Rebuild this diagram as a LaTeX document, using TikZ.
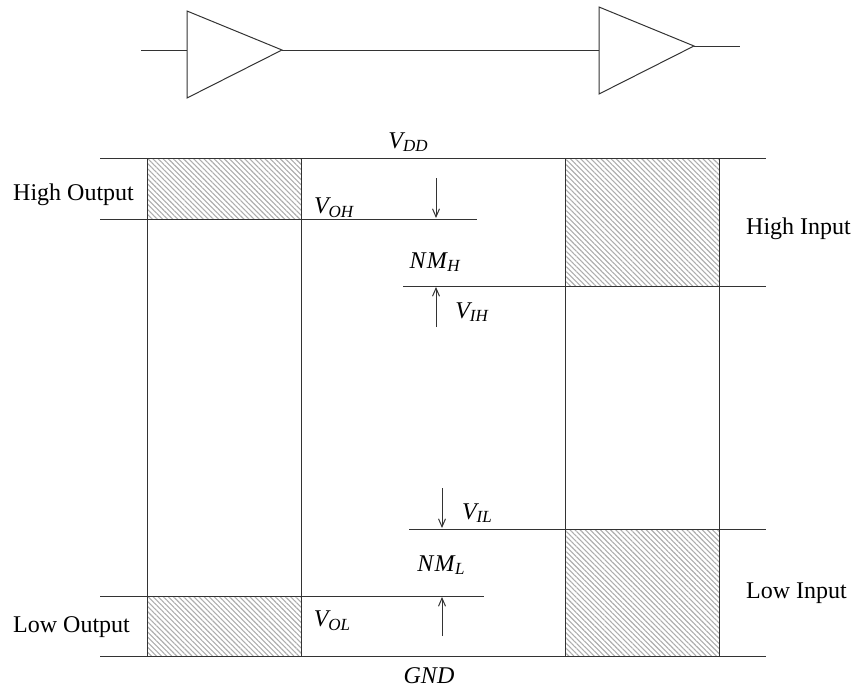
\documentclass[tikz,border=0pt]{standalone}
\usepackage{fontspec}
\setmainfont{Liberation Serif}
\usepackage{tikz}
\usetikzlibrary{arrows.meta,patterns.meta}
\newcommand{\volt}[2]{\textit{#1}\kern-0.1em\raisebox{-0.15em}{\fontsize{17}{17}\selectfont\textit{#2}}}
\begin{document}
\begin{tikzpicture}[
  x=1pt, y=-1pt,
  wire/.style={draw=black!80, line width=1pt},
  arr/.style={wire, -{Straight Barb[length=8pt,width=7pt]}},
  hatched/.style={pattern={Lines[angle=-45,distance=3.6pt,line width=1.1pt]}, pattern color=black!32},
  lab/.style={font=\fontsize{24}{26}\selectfont, inner sep=0pt, anchor=west},
  sym/.style={font=\fontsize{24}{26}\selectfont, inner sep=0pt}
]
\useasboundingbox (0,0) rectangle (851,688);
% hatched bands
\fill[hatched] (147,158) rectangle (301,219);
\fill[hatched] (147,596) rectangle (301,656);
\fill[hatched] (565,158) rectangle (719,286);
\fill[hatched] (565,529) rectangle (719,656);
% buffers
\coordinate (inA) at (141,50);
\coordinate (baseA) at (187,50);
\coordinate (tipA) at (282,50);
\coordinate (baseB) at (599,50);
\coordinate (tipB) at (694,46);
\coordinate (outB) at (740,46);
\draw[wire] (187,11) -- (tipA) -- (187,98) -- cycle;
\draw[wire] (599,7) -- (tipB) -- (599,94) -- cycle;
\draw[wire] (inA) -- (baseA);
\draw[wire] (tipA) -- (baseB);
\draw[wire] (tipB) -- (outB);
% levels
\coordinate (vddL) at (100,158);  \coordinate (vddR) at (766,158);
\coordinate (vohL) at (100,219);  \coordinate (vohR) at (477,219);
\coordinate (vihL) at (403,286);  \coordinate (vihR) at (766,286);
\coordinate (vilL) at (409,529);  \coordinate (vilR) at (766,529);
\coordinate (volL) at (100,596);  \coordinate (volR) at (484,596);
\coordinate (gndL) at (100,656);  \coordinate (gndR) at (766,656);
\draw[wire] (vddL) -- (vddR);
\draw[wire] (vohL) -- (vohR);
\draw[wire] (vihL) -- (vihR);
\draw[wire] (vilL) -- (vilR);
\draw[wire] (volL) -- (volR);
\draw[wire] (gndL) -- (gndR);
% columns
\foreach \colx/\colname in {147/a,301/b,565/c,719/d} {
  \coordinate (top\colname) at (\colx,158);
  \coordinate (bot\colname) at (\colx,656);
  \draw[wire] (top\colname) -- (bot\colname);
}
% margin arrows
\coordinate (hiDown) at (436,178);  \coordinate (hiDownEnd) at (436,218);
\coordinate (hiUp) at (436,327);    \coordinate (hiUpEnd) at (436,287);
\coordinate (loDown) at (442,488);  \coordinate (loDownEnd) at (442,528);
\coordinate (loUp) at (442,636);    \coordinate (loUpEnd) at (442,597);
\draw[arr] (hiDown) -- (hiDownEnd);
\draw[arr] (hiUp) -- (hiUpEnd);
\draw[arr] (loDown) -- (loDownEnd);
\draw[arr] (loUp) -- (loUpEnd);
% labels
\node[sym] (vdd) at (408,142) {\volt{V}{DD}};
\node[sym] (voh) at (334,208) {\volt{V}{OH}};
\node[sym] (nmh) at (435,262) {\volt{N\kern0.06em M\kern0.12em}{H}};
\node[sym] (vih) at (472,312) {\volt{V}{IH}};
\node[sym] (vil) at (477,513) {\volt{V}{IL}};
\node[sym] (nml) at (441,565) {\volt{N\kern0.06em M\kern0.12em}{L}};
\node[sym] (vol) at (332,621) {\volt{V}{OL}};
\node[sym] (gnd) at (429,676) {\textit{GND}};
\node[lab] (hiout) at (13,195) {High Output};
\node[lab] (loout) at (13,627) {Low Output};
\node[lab] (hiin) at (746,229) {High Input};
\node[lab] (loin) at (746,593) {Low Input};
\end{tikzpicture}
\end{document}
